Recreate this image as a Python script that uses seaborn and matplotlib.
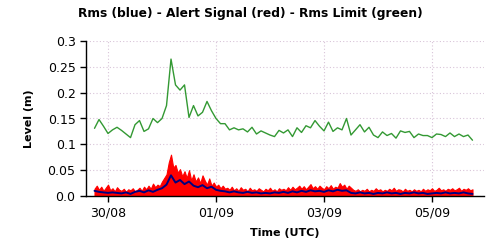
import numpy as np
import pandas as pd
import matplotlib
matplotlib.use("Agg")
import matplotlib.pyplot as plt
import matplotlib.dates as mdates
import seaborn as sns

# ---- data ----
start_time = "2023-08-29 18:00"
step_2h = "2h"
step_1h = "1h"

rms_limit = [0.131, 0.148, 0.135, 0.121, 0.128, 0.133, 0.127, 0.120, 0.113, 0.138,
             0.146, 0.125, 0.130, 0.150, 0.142, 0.150, 0.175, 0.265, 0.215, 0.205,
             0.215, 0.152, 0.175, 0.155, 0.162, 0.183, 0.165, 0.150, 0.140, 0.140,
             0.128, 0.132, 0.128, 0.130, 0.124, 0.133, 0.120, 0.126, 0.122, 0.118,
             0.115, 0.127, 0.122, 0.128, 0.115, 0.132, 0.123, 0.136, 0.132, 0.146,
             0.135, 0.126, 0.143, 0.125, 0.132, 0.128, 0.150, 0.118, 0.128, 0.138,
             0.124, 0.133, 0.118, 0.113, 0.124, 0.117, 0.121, 0.112, 0.126, 0.123,
             0.125, 0.113, 0.120, 0.117, 0.117, 0.113, 0.120, 0.119, 0.115, 0.122,
             0.115, 0.120, 0.115, 0.118, 0.108]

rms = [0.010, 0.008, 0.007, 0.006, 0.007, 0.006, 0.005, 0.007, 0.004, 0.008,
       0.010, 0.007, 0.011, 0.008, 0.012, 0.015, 0.022, 0.040, 0.026, 0.031,
       0.023, 0.028, 0.020, 0.017, 0.021, 0.015, 0.018, 0.012, 0.010, 0.009,
       0.007, 0.009, 0.007, 0.006, 0.008, 0.006, 0.007, 0.005, 0.006, 0.005,
       0.007, 0.006, 0.008, 0.006, 0.009, 0.007, 0.010, 0.008, 0.011, 0.009,
       0.010, 0.008, 0.011, 0.009, 0.012, 0.010, 0.011, 0.006, 0.005, 0.007,
       0.005, 0.006, 0.004, 0.006, 0.005, 0.007, 0.005, 0.006, 0.004, 0.006,
       0.005, 0.007, 0.005, 0.006, 0.004, 0.005, 0.006, 0.005, 0.007, 0.005,
       0.006, 0.005, 0.007, 0.005, 0.004]

alert_signal = [
    0.014, 0.020, 0.012, 0.018, 0.010, 0.016, 0.022, 0.011, 0.015, 0.009, 0.017, 0.012,
    0.010, 0.014, 0.008, 0.013, 0.011, 0.015, 0.009, 0.012, 0.016, 0.010, 0.018, 0.013,
    0.020, 0.014, 0.024, 0.017, 0.022, 0.019, 0.028, 0.035, 0.042, 0.065, 0.080, 0.055,
    0.060, 0.045, 0.052, 0.038, 0.048, 0.035, 0.050, 0.030, 0.042, 0.028, 0.036, 0.025,
    0.040, 0.030, 0.022, 0.034, 0.020, 0.026, 0.018, 0.022, 0.015, 0.020, 0.014, 0.016,
    0.012, 0.018, 0.011, 0.015, 0.010, 0.017, 0.012, 0.014, 0.009, 0.016, 0.011, 0.013,
    0.010, 0.015, 0.012, 0.009, 0.014, 0.011, 0.016, 0.010, 0.013, 0.009, 0.015, 0.012,
    0.014, 0.011, 0.017, 0.012, 0.018, 0.013, 0.016, 0.020, 0.014, 0.019, 0.013, 0.018,
    0.023, 0.015, 0.019, 0.014, 0.020, 0.016, 0.013, 0.019, 0.015, 0.021, 0.014, 0.018,
    0.016, 0.025, 0.018, 0.022, 0.014, 0.020, 0.016, 0.012, 0.010, 0.013, 0.009, 0.012,
    0.010, 0.014, 0.009, 0.012, 0.010, 0.015, 0.011, 0.013, 0.009, 0.012, 0.010, 0.014,
    0.011, 0.016, 0.010, 0.013, 0.012, 0.009, 0.014, 0.010, 0.012, 0.009, 0.013, 0.010,
    0.012, 0.009, 0.014, 0.010, 0.013, 0.011, 0.015, 0.010, 0.012, 0.016, 0.011, 0.013,
    0.010, 0.014, 0.012, 0.015, 0.011, 0.013, 0.016, 0.010, 0.014, 0.012, 0.015, 0.011,
    0.013]

tick_dates = ["2023-08-30", "2023-09-01", "2023-09-03", "2023-09-05"]
tick_labels = ["30/08", "01/09", "03/09", "05/09"]
y_ticks = [0.0, 0.05, 0.1, 0.15, 0.2, 0.25, 0.3]
y_tick_labels = ["0.0", "0.05", "0.1", "0.15", "0.2", "0.25", "0.3"]

title = "Rms (blue) - Alert Signal (red) - Rms Limit (green)"
x_label = "Time (UTC)"
y_label = "Level (m)"

# ---- build frames ----
t2 = pd.date_range(start_time, periods=len(rms_limit), freq=step_2h)
t1 = pd.date_range(start_time, periods=len(alert_signal), freq=step_1h)
df2 = pd.DataFrame({"time": t2, "limit": rms_limit, "rms": rms})
df1 = pd.DataFrame({"time": t1, "alert": alert_signal})

sns.set_style("white")
plt.rcParams["font.family"] = ["DejaVu Sans"]
plt.rcParams["text.color"] = "black"
plt.rcParams["axes.labelcolor"] = "black"

fig = plt.figure(figsize=(5, 2.5), dpi=100)
ax = fig.add_axes([0.172, 0.216, 0.796, 0.62])

ax.fill_between(df1["time"], 0, df1["alert"], color="#ff0000", linewidth=0.8,
                edgecolor="#ff0000", zorder=2)
sns.lineplot(data=df2, x="time", y="rms", ax=ax, color="#000080", linewidth=1.4, zorder=3)
sns.lineplot(data=df2, x="time", y="limit", ax=ax, color="#339933", linewidth=1.0, zorder=3)

ax.set_xlim(pd.Timestamp("2023-08-29 14:13"), pd.Timestamp("2023-09-05 23:07"))
ax.set_ylim(0, 0.3)
ax.set_xticks(pd.to_datetime(tick_dates))
ax.set_xticklabels(tick_labels)
ax.set_yticks(y_ticks)
ax.set_yticklabels(y_tick_labels)

ax.grid(True, color="#d8c4d8", linestyle=(0, (1, 2)), linewidth=0.8, zorder=0)
ax.set_axisbelow(True)
for s in ["top", "right"]:
    ax.spines[s].set_visible(False)
for s in ["left", "bottom"]:
    ax.spines[s].set_color("black")
    ax.spines[s].set_linewidth(1.0)

ax.tick_params(axis="both", direction="out", length=4, width=1, color="black",
               labelsize=9, labelcolor="black", left=True, bottom=True)
ax.set_xlabel(x_label, fontsize=8, fontweight="bold", labelpad=6, color="black")
ax.set_ylabel(y_label, fontsize=8, fontweight="bold", labelpad=10, color="black")
fig.suptitle(title, x=0.5, y=0.97, fontsize=8.8, fontweight="bold", color="black")

fig.savefig("out.png", dpi=100)
